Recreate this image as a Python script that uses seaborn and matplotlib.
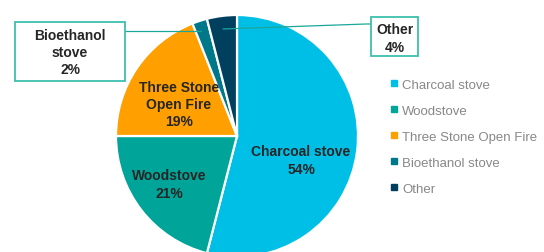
import matplotlib
matplotlib.use("Agg")
import matplotlib.pyplot as plt
import matplotlib.patches as mpatches
import seaborn as sns

# data
categories = ["Charcoal stove", "Woodstove", "Three Stone Open Fire", "Bioethanol stove", "Other"]
shares = [54, 21, 19, 2, 4]
colors = ["#00bfe6", "#00a498", "#ffa000", "#00788a", "#003f5e"]
label_names = ["Charcoal stove", "Woodstove", "Three Stone\nOpen Fire", "Bioethanol\nstove", "Other"]

sns.set_theme(style="white")
plt.rcParams['font.family'] = ['Liberation Sans', 'DejaVu Sans']

W, H = 544, 253
fig = plt.figure(figsize=(W / 100, H / 100), dpi=100)
ax = fig.add_axes([0, 0, 1, 1])


def py(y):
    # pixel row (from top) -> data y
    return H - y


cx, cy, r = 237, 137, 121
wedges, _ = ax.pie(shares, colors=colors, startangle=90, counterclock=False,
                   center=(cx, py(cy)), radius=r, frame=True,
                   wedgeprops=dict(edgecolor="white", linewidth=1.6))
ax.set_xlim(0, W)
ax.set_ylim(0, H)
ax.set_aspect('equal')
ax.axis('off')

lab_col = "#262626"
fs = 10
ls = 1.3
inside = {0: (301, 161), 1: (169, 185), 2: (179, 105)}
for i, (x, y) in inside.items():
    ax.text(x, py(y), f"{label_names[i]}\n{shares[i]}%", ha="center", va="center",
            fontsize=fs, fontweight="bold", color=lab_col, linespacing=ls)

edge = "#3dbfae"
line_col = "#1aa79a"

# Bioethanol callout
ax.add_patch(mpatches.Rectangle((14.5, py(82)), 110.5, 59, facecolor="white",
                                edgecolor=edge, linewidth=1.3, zorder=3))
ax.plot([125, 201], [py(32), py(32)], color=line_col, lw=0.9)
ax.text(70, py(53), f"{label_names[3]}\n{shares[3]}%", ha="center", va="center",
        fontsize=fs, fontweight="bold", color=lab_col, linespacing=ls, zorder=4)

# Other callout
ax.add_patch(mpatches.Rectangle((371, py(57)), 47, 39, facecolor="white",
                                edgecolor=edge, linewidth=1.3, zorder=3))
ax.plot([223, 366, 371], [py(30), py(25), py(25)], color=line_col, lw=0.9)
ax.text(394.5, py(39), f"{label_names[4]}\n{shares[4]}%", ha="center", va="center",
        fontsize=fs, fontweight="bold", color=lab_col, linespacing=ls, zorder=4)

# legend
handles = [plt.Line2D([], [], marker='s', linestyle='', markersize=4,
                      markerfacecolor=c, markeredgecolor=c) for c in colors]
leg = ax.legend(handles, categories, loc="upper left", bbox_to_anchor=(385 / W, 1 - 74 / H),
                frameon=False, fontsize=9.5, labelcolor="#888888", handlelength=0.5,
                handletextpad=0.4, labelspacing=1.05, borderaxespad=0)

fig.savefig("out.png", dpi=100)
